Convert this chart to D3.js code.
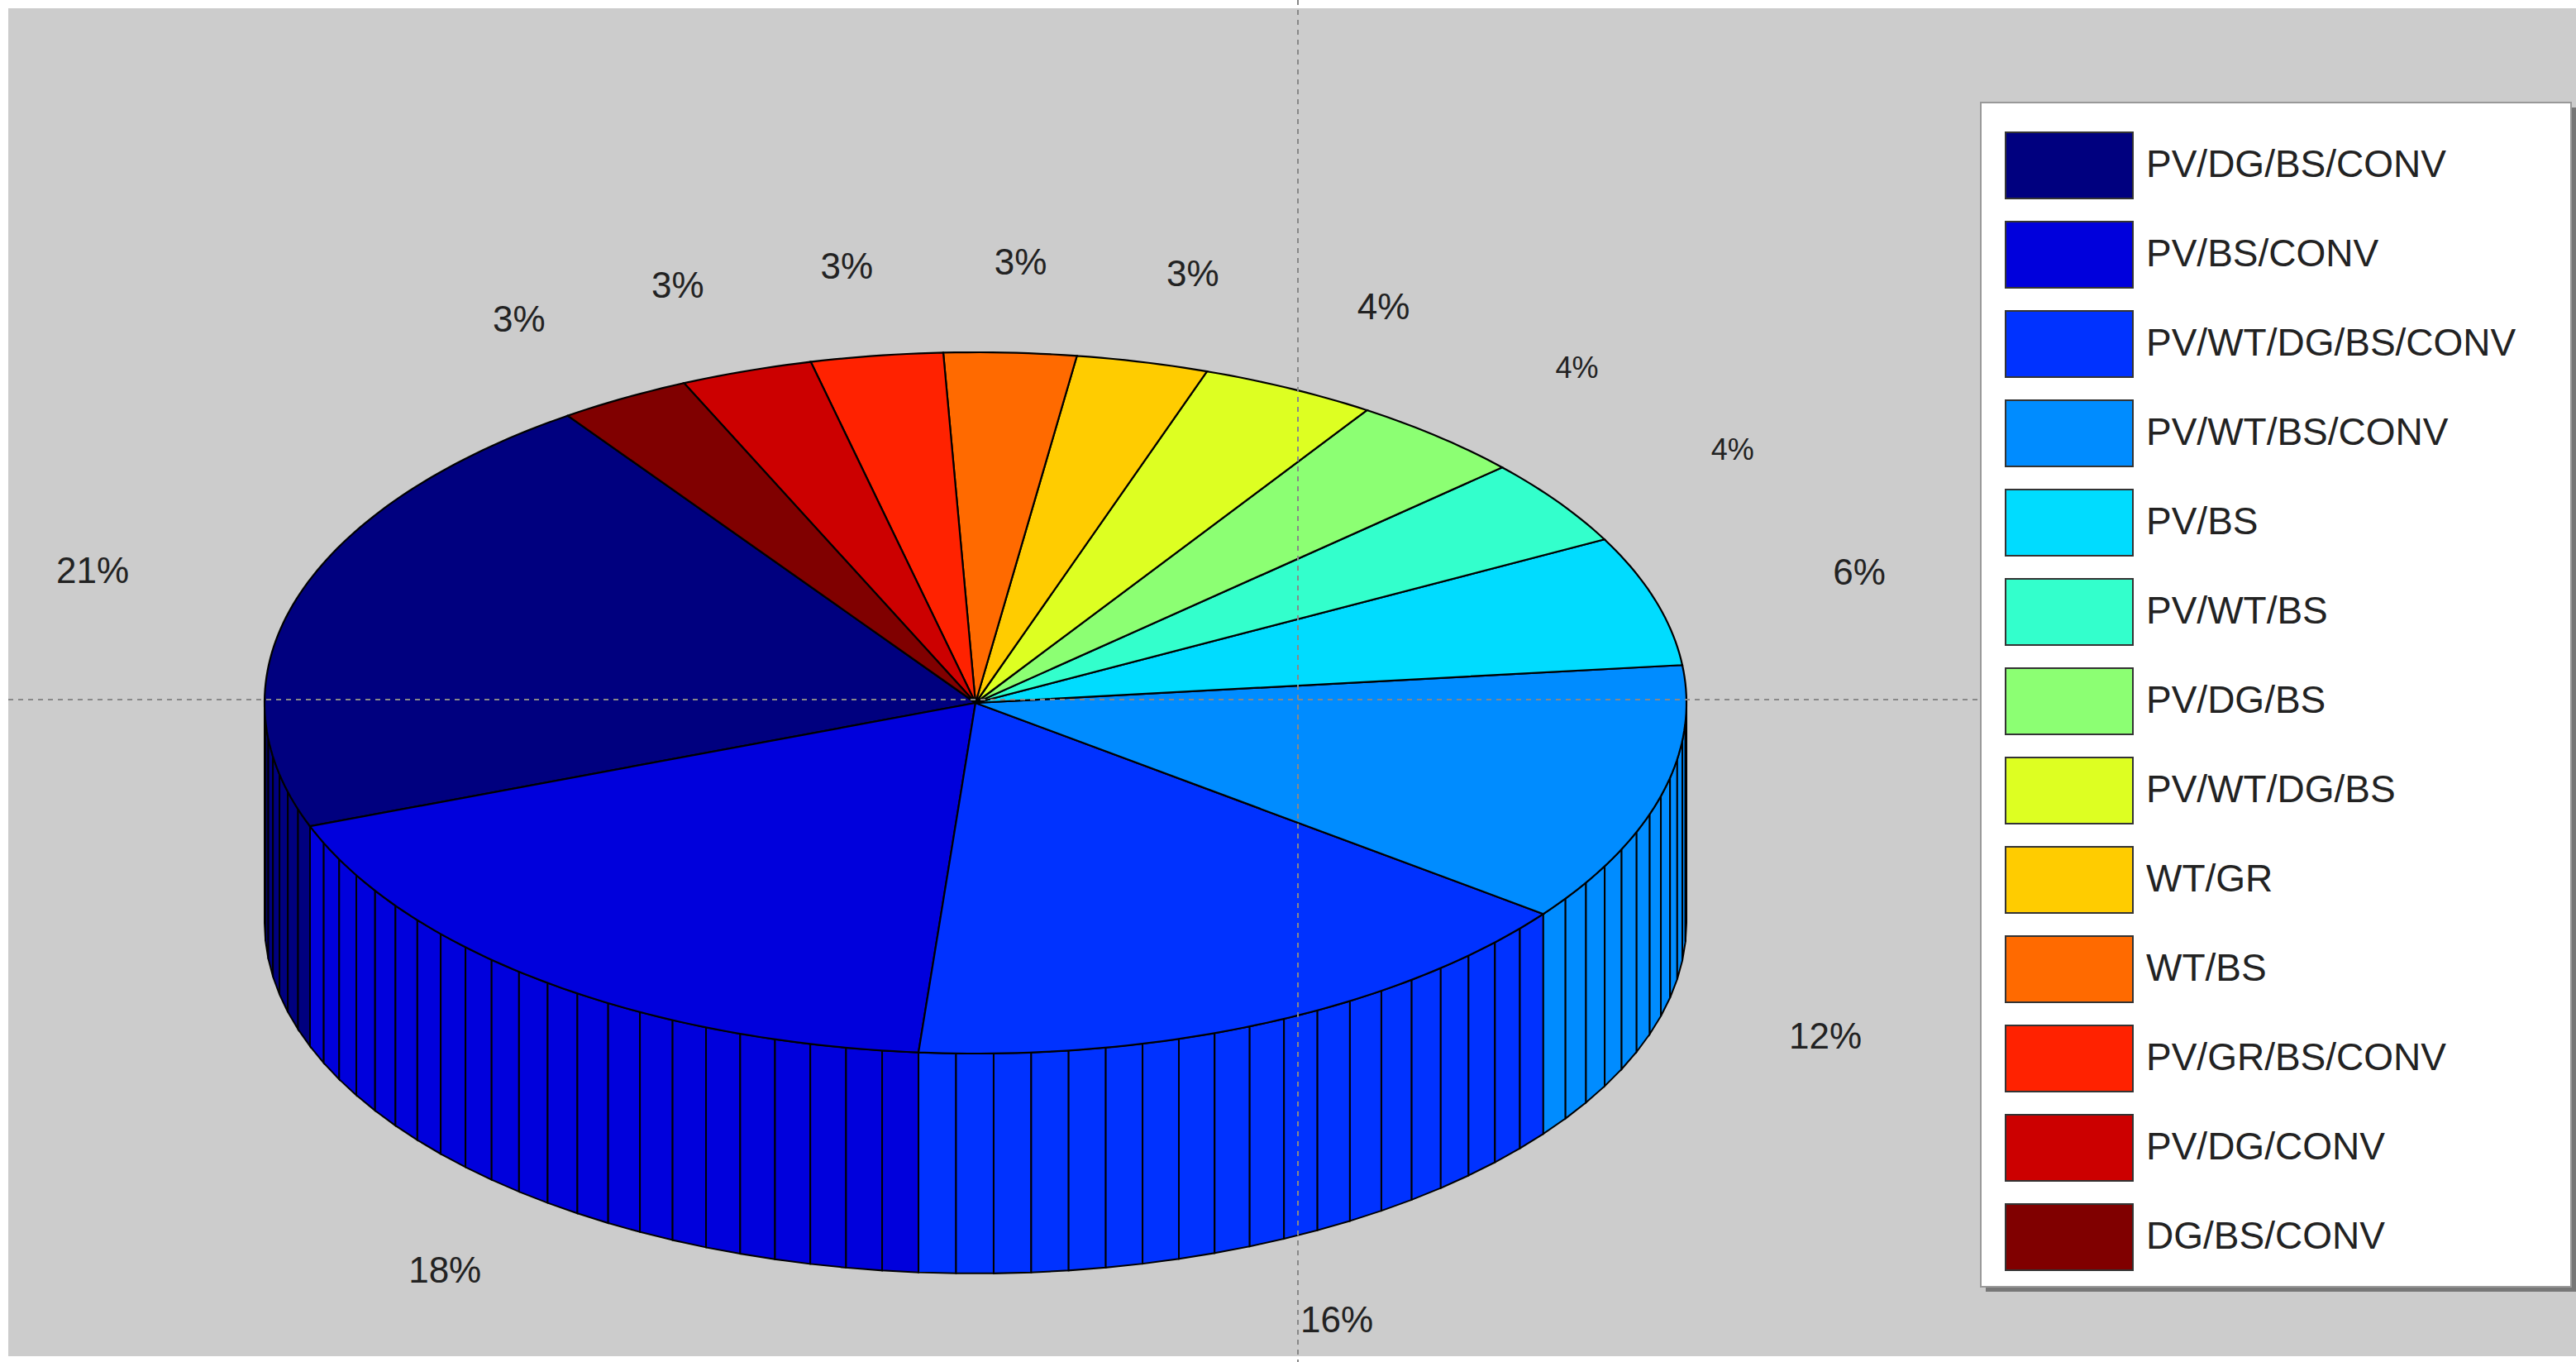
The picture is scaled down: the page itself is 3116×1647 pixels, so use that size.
<!DOCTYPE html>
<html><head><meta charset="utf-8">
<script src="https://cdn.jsdelivr.net/npm/d3@7"></script>
<style>body{margin:0;background:#fff}</style>
</head><body>
<svg id="chart" width="3116" height="1647"></svg>
<script>
var categories=['PV/DG/BS/CONV','PV/BS/CONV','PV/WT/DG/BS/CONV','PV/WT/BS/CONV','PV/BS','PV/WT/BS','PV/DG/BS','PV/WT/DG/BS','WT/GR','WT/BS','PV/GR/BS/CONV','PV/DG/CONV','DG/BS/CONV'];
var values=[21,18,16,12,6,4,4,4,3,3,3,3,3];
var colors=['#00007f','#0000dc','#0032ff','#008cff','#00dcff','#33ffcc','#8cff73','#ddff22','#ffcc00','#ff6a00','#ff2200','#cc0000','#800000'];
var smallLabel=[false,false,false,false,false,true,true,false,false,false,false,false,false];

var cx=1180, cy=850, rx=860, ry=424, depth=266;
var svg=d3.select('#chart');

svg.append('rect').attr('x',10).attr('y',10).attr('width',3106).attr('height',1630).attr('fill','#cccccc');

// math angle (deg, ccw from east) -> screen
function px(a,k){return cx+rx*(k||1)*Math.cos(a*Math.PI/180);}
function py(a,k){return cy-ry*(k||1)*Math.sin(a*Math.PI/180);}

// legend order runs counter-clockwise from the start angle
var startDeg=125;
var pie=d3.pie().sort(null).startAngle((90-startDeg)*Math.PI/180).endAngle((90-startDeg-360)*Math.PI/180);
var arcs=pie(values).map(function(d,i){
  var a0=90-d.startAngle*180/Math.PI, a1=90-d.endAngle*180/Math.PI;
  return {i:i,a0:a0,a1:a1,v:d.value};
});

// side facets (front half only)
var facets=[];
arcs.forEach(function(s){
  var a0=((s.a0%360)+360)%360, a1=a0+(s.a1-s.a0);
  [0,360].forEach(function(off){
    var l=Math.max(a0,180+off), h=Math.min(a1,360+off);
    if(h>l){
      var n=Math.max(1,Math.round((h-l)/3));
      for(var j=0;j<n;j++) facets.push({i:s.i,b0:l+(h-l)*j/n,b1:l+(h-l)*(j+1)/n});
    }
  });
});
svg.append('g').selectAll('path').data(facets).join('path')
  .attr('d',function(f){
    return 'M'+px(f.b0)+','+py(f.b0)+'L'+px(f.b1)+','+py(f.b1)+'L'+px(f.b1)+','+(py(f.b1)+depth)+'L'+px(f.b0)+','+(py(f.b0)+depth)+'Z';
  })
  .attr('fill',function(f){return colors[f.i];})
  .attr('stroke','#000').attr('stroke-width',2);

// top slices
svg.append('g').selectAll('path').data(arcs).join('path')
  .attr('d',function(s){
    var pts=[[cx,cy]], n=Math.max(4,Math.ceil(s.a1-s.a0));
    for(var j=0;j<=n;j++){var a=s.a0+(s.a1-s.a0)*j/n;pts.push([px(a),py(a)]);}
    return d3.line()(pts)+'Z';
  })
  .attr('fill',function(s){return colors[s.i];})
  .attr('stroke','#000').attr('stroke-width',2.2);

// grid lines
svg.append('line').attr('x1',1570).attr('x2',1570).attr('y1',0).attr('y2',1647)
  .attr('stroke','#888').attr('stroke-width',2).attr('stroke-dasharray','6,6');
svg.append('line').attr('x1',10).attr('x2',3116).attr('y1',846).attr('y2',846)
  .attr('stroke','#888').attr('stroke-width',2).attr('stroke-dasharray','6,6');

// percentage labels
function mid(s){return (s.a0+s.a1)/2;}
function below(s){return Math.sin(mid(s)*Math.PI/180)<0;}
svg.append('g').selectAll('text').data(arcs).join('text')
  .attr('x',function(s){return px(mid(s),below(s)?1.24:1.3);})
  .attr('y',function(s){return below(s)?py(mid(s),1.25)+depth:py(mid(s),1.25);})
  .attr('text-anchor','middle').attr('dominant-baseline','middle')
  .attr('font-family','Liberation Sans, Arial, sans-serif')
  .attr('font-size',function(s){return smallLabel[s.i]?36:44;})
  .attr('fill','#222')
  .text(function(s){return s.v+'%';});

// legend
var lg=svg.append('g');
lg.append('rect').attr('x',2402).attr('y',130).attr('width',714).attr('height',1432).attr('fill','#777');
lg.append('rect').attr('x',2396).attr('y',124).attr('width',714).attr('height',1432).attr('fill','#fff').attr('stroke','#999').attr('stroke-width',2);
var rows=lg.selectAll('g.row').data(categories).join('g').attr('class','row')
  .attr('transform',function(d,i){return 'translate(2426,'+(160+i*108)+')';});
rows.append('rect').attr('width',154).attr('height',80)
  .attr('fill',function(d,i){return colors[i];}).attr('stroke','#333').attr('stroke-width',2);
rows.append('text').attr('x',170).attr('y',42).attr('dominant-baseline','middle')
  .attr('font-family','Liberation Sans, Arial, sans-serif').attr('font-size',46).attr('fill','#222')
  .text(function(d){return d;});
</script>
</body></html>
